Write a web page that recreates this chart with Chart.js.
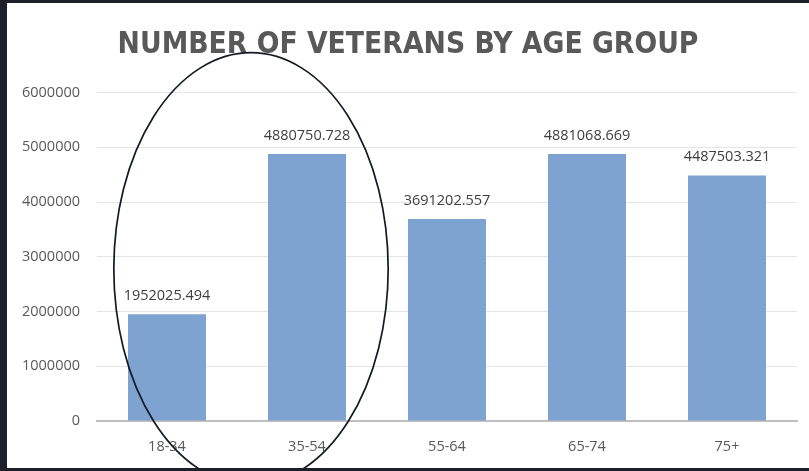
<!DOCTYPE html>
<html>
<head>
<meta charset="utf-8">
<script src="https://cdn.jsdelivr.net/npm/chart.js@4.4.1/dist/chart.umd.min.js"></script>
<style>
  html, body { margin: 0; padding: 0; }
  body { background: #1c2029; width: 809px; height: 471px; position: relative; overflow: hidden; }
  #panel { position: absolute; left: 7px; top: 3px; width: 802px; height: 465px; background: #ffffff; }
  canvas { display: block; }
</style>
</head>
<body>
<div id="panel"><canvas id="chart-veterans" width="802" height="465"></canvas></div>
<script>
// Age groups and veteran counts
const ageGroups = ['18-34', '35-54', '55-64', '65-74', '75+'];
const veterans = [1952025.494, 4880750.728, 3691202.557, 4881068.669, 4487503.321];
const yTicks = [0, 1000000, 2000000, 3000000, 4000000, 5000000, 6000000];

const textFont = "'Open Sans', 'DejaVu Sans', sans-serif";
const titleFont = "'Liberation Sans Narrow', 'DejaVu Sans Condensed', sans-serif";

// Value labels above each bar
const barValueLabels = {
    id: 'barValueLabels',
    afterDatasetsDraw(chart) {
        const ctx = chart.ctx;
        const meta = chart.getDatasetMeta(0);
        ctx.save();
        ctx.font = `14.5px ${textFont}`;
        ctx.fillStyle = '#404040';
        ctx.textAlign = 'center';
        ctx.textBaseline = 'alphabetic';
        meta.data.forEach((bar, i) => {
            ctx.fillText(veterans[i].toFixed(3), bar.x, bar.y - 14);
        });
        ctx.restore();
    }
};

// Hand-drawn style ring around the two youngest groups
const circleNote = {
    id: 'circleNote',
    afterDraw(chart) {
        const { ctx, scales: { x, y } } = chart;
        const cx = x.getPixelForValue(0.6);
        const rx = x.getPixelForValue(1.58) - cx;
        const cy = y.getPixelForValue(2780000);
        const ry = cy - y.getPixelForValue(2780000 + 3950000);
        ctx.save();
        ctx.beginPath();
        ctx.ellipse(cx, cy, rx, ry, 0, 0, Math.PI * 2);
        ctx.strokeStyle = '#141a24';
        ctx.lineWidth = 1.7;
        ctx.stroke();
        ctx.restore();
    }
};

const ctx = document.getElementById('chart-veterans').getContext('2d');
new Chart(ctx, {
    type: 'bar',
    data: {
        labels: ageGroups,
        datasets: [{
            data: veterans,
            backgroundColor: '#7ea3d1',
            borderWidth: 0,
            categoryPercentage: 1,
            barPercentage: 0.557
        }]
    },
    options: {
        responsive: false,
        devicePixelRatio: 1,
        animation: false,
        layout: {
            padding: { top: 24, right: 12, bottom: 0, left: 12 }
        },
        plugins: {
            legend: { display: false },
            tooltip: { enabled: false },
            title: {
                display: true,
                text: 'NUMBER OF VETERANS BY AGE GROUP',
                color: '#595959',
                font: { family: titleFont, size: 29.7, weight: 'bold' },
                padding: { top: 0, bottom: 30 }
            }
        },
        scales: {
            y: {
                min: 0,
                max: 6000000,
                afterBuildTicks(scale) {
                    scale.ticks = yTicks.map(v => ({ value: v }));
                },
                afterFit(scale) {
                    scale.width = 78;
                },
                ticks: {
                    color: '#595959',
                    font: { family: textFont, size: 14.5 },
                    padding: 17,
                    callback: v => String(v)
                },
                grid: {
                    color: '#e4e4e4',
                    drawTicks: false
                },
                border: { display: false }
            },
            x: {
                afterFit(scale) {
                    scale.height = 47;
                },
                ticks: {
                    color: '#595959',
                    font: { family: textFont, size: 14.5 },
                    padding: 17
                },
                grid: { display: false, drawTicks: false },
                border: { color: '#bfbfbf', width: 2 }
            }
        }
    },
    plugins: [barValueLabels, circleNote]
});
</script>
</body>
</html>
